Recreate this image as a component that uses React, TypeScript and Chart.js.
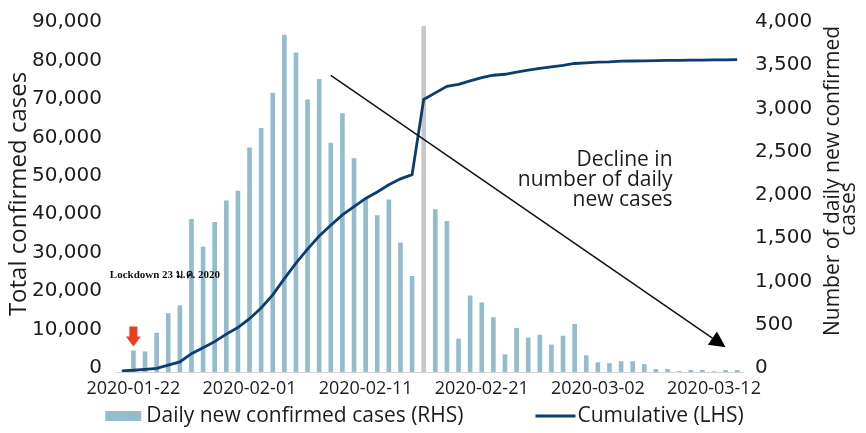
import React, { useEffect, useRef } from 'react';
import { Chart, registerables } from 'chart.js';

Chart.register(...registerables);

// ---------- data ----------
const dates = [
  '2020-01-21', '2020-01-22', '2020-01-23', '2020-01-24', '2020-01-25', '2020-01-26', '2020-01-27',
  '2020-01-28', '2020-01-29', '2020-01-30', '2020-01-31', '2020-02-01', '2020-02-02', '2020-02-03',
  '2020-02-04', '2020-02-05', '2020-02-06', '2020-02-07', '2020-02-08', '2020-02-09', '2020-02-10',
  '2020-02-11', '2020-02-12', '2020-02-13', '2020-02-14', '2020-02-15', '2020-02-16', '2020-02-17',
  '2020-02-18', '2020-02-19', '2020-02-20', '2020-02-21', '2020-02-22', '2020-02-23', '2020-02-24',
  '2020-02-25', '2020-02-26', '2020-02-27', '2020-02-28', '2020-02-29', '2020-03-01', '2020-03-02',
  '2020-03-03', '2020-03-04', '2020-03-05', '2020-03-06', '2020-03-07', '2020-03-08', '2020-03-09',
  '2020-03-10', '2020-03-11', '2020-03-12', '2020-03-13', '2020-03-14',
];

const dailyNew = [
  null, 249, 238, 453, 680, 770, 1768, 1450, 1734, 1983, 2096,
  2595, 2821, 3229, 3898, 3694, 3150, 3388, 2651, 2991, 2470,
  2005, 1813, 1994, 1496, 1110, 4000, 1881, 1745, 385, 884,
  804, 634, 204, 510, 397, 430, 317, 419, 555, 193,
  113, 102, 125, 125, 91, 34, 34, 10, 23, 23,
  8, 23, 23,
];

const cumulative = [
  300, 450, 700, 940, 1785, 2630, 4760, 6290, 7900, 9860, 11560,
  13860, 16670, 20070, 24300, 28300, 31950, 35370, 38170, 40880, 43020,
  45140, 46840, 48700, 50235, 51330, 70890, 72600, 74300, 74800, 75740,
  76590, 77190, 77445, 78030, 78540, 78970, 79380, 79740, 80250, 80420,
  80580, 80660, 80840, 80900, 80950, 81000, 81040, 81080, 81110, 81140,
  81170, 81200, 81230,
];

const xTickLabels = ['2020-01-22', '2020-02-01', '2020-02-11', '2020-02-21', '2020-03-02', '2020-03-12'];
const leftAxis = { min: 0, max: 90000, step: 10000 };
const rightAxis = { min: 0, max: 4000, step: 500 };

const seriesLabels = ['Daily new confirmed cases (RHS)', 'Cumulative (LHS)'];
const leftTitle = 'Total confirmed cases';
const rightTitle = ['Number of daily new confirmed', 'cases'];

const revisionDate = '2020-02-16';
const lockdownBarDate = '2020-01-22';
const lockdownText = 'Lockdown 23 ม.ค. 2020';
const declineText = ['Decline in', 'number of daily', 'new cases'];
const declineAnchor = { date: '2020-03-08', value: 2450 };
const lockdownTextAnchor = { date: '2020-01-21', value: 1120 };
const trendFrom = { date: '2020-02-08', value: 3430 };
const trendTo = { date: '2020-03-13', value: 287 };

// ---------- styles ----------
const BAR = '#93bccd';
const GREY = '#c8c8c8';
const LINE = '#0b3d6f';
const TEXT = '#1c1c1c';
const SANS = '"Open Sans", "DejaVu Sans", sans-serif';
const TICK_FONT = '"DejaVu Sans", sans-serif';

const fmt = (v: number) => Number(v).toLocaleString('en-US');

const annotations = {
  id: 'annotations',
  afterDraw(chart: any) {
    const { ctx, chartArea } = chart;
    const x = chart.scales.x;
    const y1 = chart.scales.y1;
    const xi = (d: string) => x.getPixelForValue(dates.indexOf(d));
    ctx.save();

    // Lockdown label
    ctx.fillStyle = '#111';
    ctx.font = 'bold 11px "Liberation Serif", "DejaVu Serif", serif';
    ctx.textAlign = 'left';
    ctx.textBaseline = 'middle';
    ctx.fillText(lockdownText, xi(lockdownTextAnchor.date) - 12, y1.getPixelForValue(lockdownTextAnchor.value));

    // red block arrow pointing at lockdown bar
    const li = dates.indexOf(lockdownBarDate);
    const ax = x.getPixelForValue(li);
    const tip = y1.getPixelForValue(dailyNew[li] as number) - 4;
    const L = 20, headH = 10, sw = 8, hw = 15;
    ctx.fillStyle = '#e8401c';
    ctx.beginPath();
    ctx.moveTo(ax - sw / 2, tip - L);
    ctx.lineTo(ax + sw / 2, tip - L);
    ctx.lineTo(ax + sw / 2, tip - headH);
    ctx.lineTo(ax + hw / 2, tip - headH);
    ctx.lineTo(ax, tip);
    ctx.lineTo(ax - hw / 2, tip - headH);
    ctx.lineTo(ax - sw / 2, tip - headH);
    ctx.closePath();
    ctx.fill();

    // trend arrow
    const x0 = xi(trendFrom.date), yA = y1.getPixelForValue(trendFrom.value);
    const x1 = xi(trendTo.date), yB = y1.getPixelForValue(trendTo.value);
    const dx = x1 - x0, dy = yB - yA, len = Math.hypot(dx, dy);
    const ux = dx / len, uy = dy / len;
    const hl = 16, hwid = 8;
    const bx = x1 - ux * hl, by = yB - uy * hl;
    ctx.strokeStyle = '#111';
    ctx.lineWidth = 1.5;
    ctx.beginPath();
    ctx.moveTo(x0, yA);
    ctx.lineTo(bx, by);
    ctx.stroke();
    ctx.fillStyle = '#000';
    ctx.beginPath();
    ctx.moveTo(x1, yB);
    ctx.lineTo(bx - uy * hwid, by + ux * hwid);
    ctx.lineTo(bx + uy * hwid, by - ux * hwid);
    ctx.closePath();
    ctx.fill();

    // decline text
    ctx.fillStyle = TEXT;
    ctx.font = `21px ${SANS}`;
    ctx.textAlign = 'right';
    ctx.textBaseline = 'middle';
    const dxr = xi(declineAnchor.date) + 5;
    const dy0 = y1.getPixelForValue(declineAnchor.value);
    declineText.forEach((t, i) => ctx.fillText(t, dxr, dy0 + i * 20));

    // axis titles
    ctx.textAlign = 'center';
    ctx.font = `24px ${SANS}`;
    ctx.save();
    ctx.translate(chartArea.left - 97, (chartArea.top + chartArea.bottom) / 2 - 5);
    ctx.rotate(-Math.PI / 2);
    ctx.fillText(leftTitle, 0, 0);
    ctx.restore();

    ctx.font = `21px ${SANS}`;
    ctx.save();
    ctx.translate(chartArea.right + 90, 181);
    ctx.rotate(-Math.PI / 2);
    ctx.fillText(rightTitle[0], 0, 0);
    ctx.restore();
    ctx.save();
    ctx.translate(chartArea.right + 106, 209);
    ctx.rotate(-Math.PI / 2);
    ctx.fillText(rightTitle[1], 0, 0);
    ctx.restore();

    // legend
    const ds = chart.data.datasets;
    ctx.font = `21px ${SANS}`;
    ctx.textAlign = 'left';
    const items = [
      { text: ds[0].label, kind: 'bar', color: BAR, sw: 36, gap: 5 },
      { text: ds[1].label, kind: 'line', color: LINE, sw: 40, gap: 2 },
    ];
    const between = 72;
    const widths = items.map((it) => it.sw + it.gap + ctx.measureText(it.text).width);
    const total = widths[0] + widths[1] + between;
    let lx = (chartArea.left + chartArea.right) / 2 - 5 - total / 2;
    const ly = chartArea.bottom + 44;
    items.forEach((it, i) => {
      if (it.kind === 'bar') {
        ctx.fillStyle = it.color;
        ctx.fillRect(lx, ly - 5, it.sw, 10);
      } else {
        ctx.strokeStyle = it.color;
        ctx.lineWidth = 3;
        ctx.beginPath();
        ctx.moveTo(lx, ly);
        ctx.lineTo(lx + it.sw, ly);
        ctx.stroke();
      }
      ctx.fillStyle = TEXT;
      ctx.fillText(it.text, lx + it.sw + it.gap, ly);
      lx += widths[i] + between;
    });
    ctx.restore();
  },
};

export default function App() {
  const ref = useRef<HTMLCanvasElement>(null);
  useEffect(() => {
    const canvas = ref.current;
    if (!canvas) return;
    const chart = new Chart(canvas, {
      type: 'bar',
      data: {
        labels: dates,
        datasets: [
          {
            type: 'bar',
            label: seriesLabels[0],
            data: dailyNew as any,
            yAxisID: 'y1',
            backgroundColor: (c: any) => (dates[c.dataIndex] === revisionDate ? GREY : BAR),
            barPercentage: 0.4,
            categoryPercentage: 1,
            order: 1,
          } as any,
          {
            type: 'line',
            label: seriesLabels[1],
            data: cumulative,
            yAxisID: 'y',
            borderColor: LINE,
            backgroundColor: LINE,
            borderWidth: 2.8,
            pointRadius: 0,
            tension: 0,
            fill: false,
            order: 0,
          } as any,
        ],
      },
      options: {
        responsive: false,
        animation: false,
        events: [],
        layout: { padding: { top: 19, bottom: 31, left: 0, right: 0 } },
        plugins: { legend: { display: false }, tooltip: { enabled: false } },
        scales: {
          x: {
            grid: { display: false, drawTicks: false },
            border: { display: true, color: '#d4d4d4', width: 1 },
            ticks: {
              autoSkip: false,
              maxRotation: 0,
              minRotation: 0,
              padding: 6,
              color: TEXT,
              font: { family: SANS, size: 18 },
              callback: (_v: any, i: number) => (xTickLabels.includes(dates[i]) ? dates[i] : ''),
            },
            afterFit: (s: any) => { s.height = 30; },
          },
          y: {
            position: 'left',
            min: leftAxis.min,
            max: leftAxis.max,
            grid: { display: false, drawTicks: false },
            border: { display: false },
            ticks: {
              stepSize: leftAxis.step,
              padding: 14,
              labelOffset: -4,
              color: TEXT,
              font: { family: TICK_FONT, size: 20 },
              callback: (v: any) => fmt(v),
            },
            afterFit: (s: any) => { s.width = 116; },
          },
          y1: {
            position: 'right',
            min: rightAxis.min,
            max: rightAxis.max,
            grid: { display: false, drawTicks: false },
            border: { display: false },
            ticks: {
              stepSize: rightAxis.step,
              padding: 12,
              labelOffset: -4,
              color: TEXT,
              font: { family: TICK_FONT, size: 20 },
              callback: (v: any) => fmt(v),
            },
            afterFit: (s: any) => { s.width = 123; },
          },
        },
      } as any,
      plugins: [annotations],
    });
    return () => chart.destroy();
  }, []);
  return (
    <div style={{ position: 'fixed', left: 0, top: 0, width: 866, height: 433, background: '#fff' }}>
      <canvas ref={ref} width={866} height={433} style={{ display: 'block' }} />
    </div>
  );
}
